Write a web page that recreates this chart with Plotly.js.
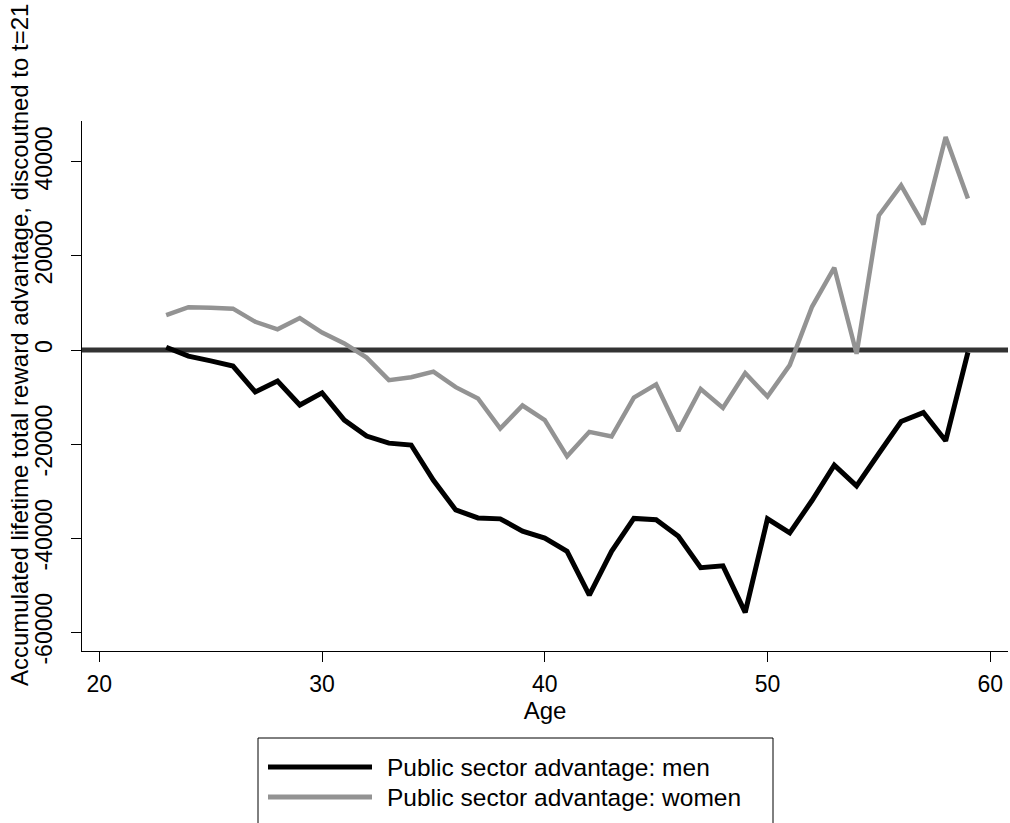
<!DOCTYPE html>
<html>
<head>
<meta charset="utf-8">
<script src="https://cdn.plot.ly/plotly-3.0.1.min.js"></script>
<style>html,body{margin:0;padding:0;background:#fff;}#chart{width:1010px;height:823px;}</style>
</head>
<body>
<div id="chart"></div>
<script>
const ages = [23,24,25,26,27,28,29,30,31,32,33,34,35,36,37,38,39,40,41,42,43,44,45,46,47,48,49,50,51,52,53,54,55,56,57,58,59];
const menValues = [600,-1300,-2300,-3400,-8900,-6600,-11700,-9100,-14900,-18300,-19800,-20200,-27700,-34000,-35700,-35900,-38500,-40000,-42800,-52100,-42800,-35800,-36100,-39600,-46300,-45900,-55800,-35900,-38900,-32000,-24500,-28900,-22000,-15200,-13300,-19300,-500];
const womenValues = [7400,9100,9000,8800,6000,4400,6800,3700,1400,-1600,-6400,-5800,-4600,-7900,-10300,-16700,-11800,-14900,-22600,-17400,-18400,-10100,-7300,-17200,-8300,-12300,-4900,-9900,-3200,9200,17500,-800,28600,35000,26700,45300,32200];
const seriesNames = ["Public sector advantage: men", "Public sector advantage: women"];
const seriesColors = ["#000000", "#939393"];
const xTicks = [20,30,40,50,60];
const yTicks = [-60000,-40000,-20000,0,20000,40000];
const xTitle = "Age";
const yTitle = "Accumulated lifetime total reward advantage, discoutned to t=21";

const L = 82, R = 1008, T = 121, B = 651;
const W = R - L, H = B - T;
const px = x => (x - L) / W;
const py = y => (B - y) / H;

const traces = [
  {x: ages, y: menValues, type: 'scatter', mode: 'lines', name: seriesNames[0],
   line: {color: seriesColors[0], width: 5}, showlegend: false},
  {x: ages, y: womenValues, type: 'scatter', mode: 'lines', name: seriesNames[1],
   line: {color: seriesColors[1], width: 4.5}, showlegend: false}
];

const font = "Liberation Sans, Arial, sans-serif";

const shapes = [
  {type: 'line', xref: 'paper', yref: 'y', x0: 0, x1: 1, y0: 0, y1: 0,
   line: {color: '#333333', width: 5}, layer: 'below'},
  {type: 'rect', xref: 'paper', yref: 'paper', x0: px(258), x1: px(773), y0: py(738), y1: py(840),
   line: {color: '#000', width: 1}},
  {type: 'line', xref: 'paper', yref: 'paper', x0: px(268), x1: px(372), y0: py(767), y1: py(767),
   line: {color: seriesColors[0], width: 5}},
  {type: 'line', xref: 'paper', yref: 'paper', x0: px(268), x1: px(372), y0: py(797), y1: py(797),
   line: {color: seriesColors[1], width: 5}}
];

const annotations = [
  {text: yTitle, xref: 'paper', yref: 'paper', x: px(19), y: py(345), textangle: -90,
   showarrow: false, font: {family: font, size: 24, color: '#000'}, xanchor: 'center', yanchor: 'middle'},
  {text: seriesNames[0], xref: 'paper', yref: 'paper', x: px(385), y: py(767), showarrow: false,
   xanchor: 'left', yanchor: 'middle', font: {family: font, size: 24.5, color: '#000'}},
  {text: seriesNames[1], xref: 'paper', yref: 'paper', x: px(385), y: py(797), showarrow: false,
   xanchor: 'left', yanchor: 'middle', font: {family: font, size: 24.5, color: '#000'}}
];

const layout = {
  width: 1010, height: 823,
  margin: {l: L, r: 1010 - R, t: T, b: 823 - B},
  paper_bgcolor: '#fff', plot_bgcolor: '#fff',
  showlegend: false,
  font: {family: font, size: 23, color: '#000'},
  xaxis: {
    range: [19.22, 60.8], tickvals: xTicks, ticktext: xTicks.map(String),
    showgrid: false, zeroline: false, showline: true, linecolor: '#000', linewidth: 1,
    ticks: 'outside', ticklen: 10, tickcolor: '#000', tickwidth: 1, ticklabelstandoff: 2,
    tickfont: {family: font, size: 23, color: '#000'},
    title: {text: xTitle, font: {family: font, size: 24, color: '#000'}, standoff: 0}
  },
  yaxis: {
    range: [-64000, 48700], tickvals: yTicks, ticktext: yTicks.map(String),
    showgrid: false, zeroline: false, showline: true, linecolor: '#000', linewidth: 1,
    ticks: 'outside', ticklen: 10, tickcolor: '#000', tickwidth: 1, tickangle: -90,
    ticklabelstandoff: 10,
    tickfont: {family: font, size: 23, color: '#000'}
  },
  shapes: shapes,
  annotations: annotations
};

Plotly.newPlot('chart', traces, layout, {displayModeBar: false, staticPlot: true});
</script>
</body>
</html>
